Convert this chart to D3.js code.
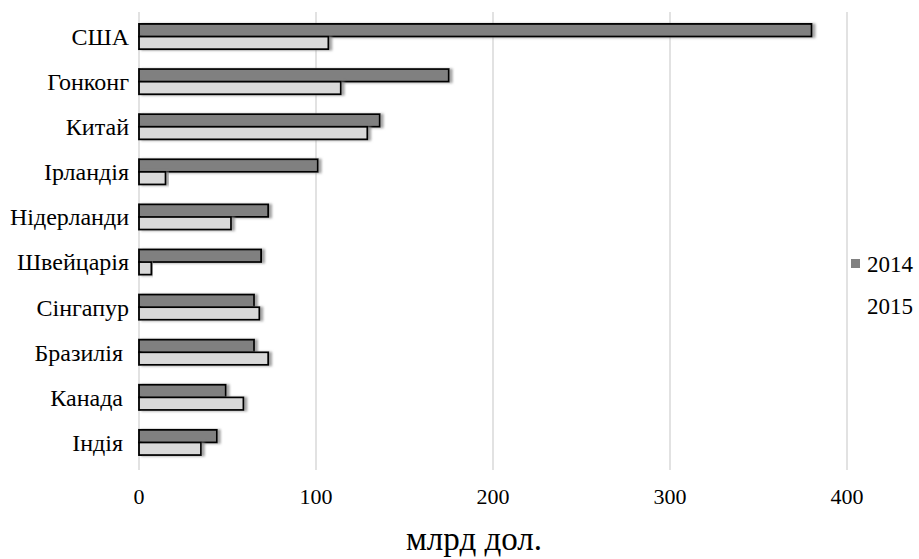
<!DOCTYPE html>
<html>
<head>
<meta charset="utf-8">
<script src="https://cdn.jsdelivr.net/npm/d3@7"></script>
<style>
  html, body { margin: 0; padding: 0; background: #fff; }
</style>
</head>
<body>
<svg id="chart" width="919" height="559"></svg>
<script>
// Foreign direct investment by country, billion dollars
const countries = ["США", "Гонконг", "Китай", "Ірландія", "Нідерланди", "Швейцарія", "Сінгапур", "Бразилія ", "Канада ", "Індія "];
const values2014 = [380, 175, 136, 101, 73, 69, 65, 65, 49, 44];
const values2015 = [107, 114, 129, 15, 52, 7, 68, 73, 59, 35];
const seriesNames = ["2014", "2015"];
const xTicks = [0, 100, 200, 300, 400];
const axisTitle = "млрд дол.";

const FONT = '"Liberation Serif", "Times New Roman", serif';

const svg = d3.select("#chart");

const x = d3.scaleLinear().domain([0, 400]).range([139, 847]);
const y = d3.scaleBand().domain(countries).range([14, 465]).paddingInner(0.44).paddingOuter(0.22);
const sub = d3.scaleBand().domain(seriesNames).range([0, y.bandwidth()]);

const fills = { "2014": "#808080", "2015": "#d9d9d9" };

// soft shadow to the right of each bar
const defs = svg.append("defs");
const f = defs.append("filter").attr("id", "shadow")
  .attr("x", "-5%").attr("y", "-40%").attr("width", "115%").attr("height", "180%");
f.append("feDropShadow").attr("dx", 3).attr("dy", 0.5).attr("stdDeviation", 0.8)
  .attr("flood-color", "#888").attr("flood-opacity", 0.75);

// vertical gridlines
svg.append("g").selectAll("line").data(xTicks).join("line")
  .attr("x1", d => x(d)).attr("x2", d => x(d))
  .attr("y1", 12).attr("y2", 470)
  .attr("stroke", "#d9d9d9").attr("stroke-width", 1.5);

// bars
const rows = countries.map((c, i) => ({ c, v: { "2014": values2014[i], "2015": values2015[i] } }));
const groups = svg.append("g").selectAll("g").data(rows).join("g")
  .attr("transform", d => `translate(0,${y(d.c)})`);
groups.selectAll("rect").data(d => seriesNames.map(s => ({ s, v: d.v[s] }))).join("rect")
  .attr("x", x(0))
  .attr("y", d => sub(d.s))
  .attr("width", d => x(d.v) - x(0))
  .attr("height", sub.bandwidth())
  .attr("fill", d => fills[d.s])
  .attr("stroke", "#000")
  .attr("stroke-width", 1.8)
  .attr("filter", "url(#shadow)");

// category labels
svg.append("g").selectAll("text").data(countries).join("text")
  .attr("x", 129)
  .attr("y", d => y(d) + y.bandwidth() / 2)
  .attr("dy", "0.35em")
  .attr("text-anchor", "end")
  .style("font-family", FONT)
  .style("font-size", "24px")
  .style("white-space", "pre")
  .text(d => d);

// x tick labels
svg.append("g").selectAll("text").data(xTicks).join("text")
  .attr("x", d => x(d))
  .attr("y", 504)
  .attr("text-anchor", "middle")
  .style("font-family", FONT)
  .style("font-size", "22px")
  .text(d => d);

// axis title
svg.append("text")
  .attr("x", 474)
  .attr("y", 550)
  .attr("text-anchor", "middle")
  .style("font-family", FONT)
  .style("font-size", "33px")
  .text(axisTitle);

// legend
const legend = svg.append("g");
seriesNames.forEach((s, i) => {
  const ly = i === 0 ? 264 : 306;
  legend.append("rect")
    .attr("x", 851).attr("y", ly - 5).attr("width", 9).attr("height", 9)
    .attr("fill", s === "2014" ? fills[s] : "none");
  legend.append("text")
    .attr("x", 867).attr("y", ly).attr("dy", "0.35em")
    .style("font-family", FONT)
    .style("font-size", "23px")
    .text(s);
});
</script>
</body>
</html>
